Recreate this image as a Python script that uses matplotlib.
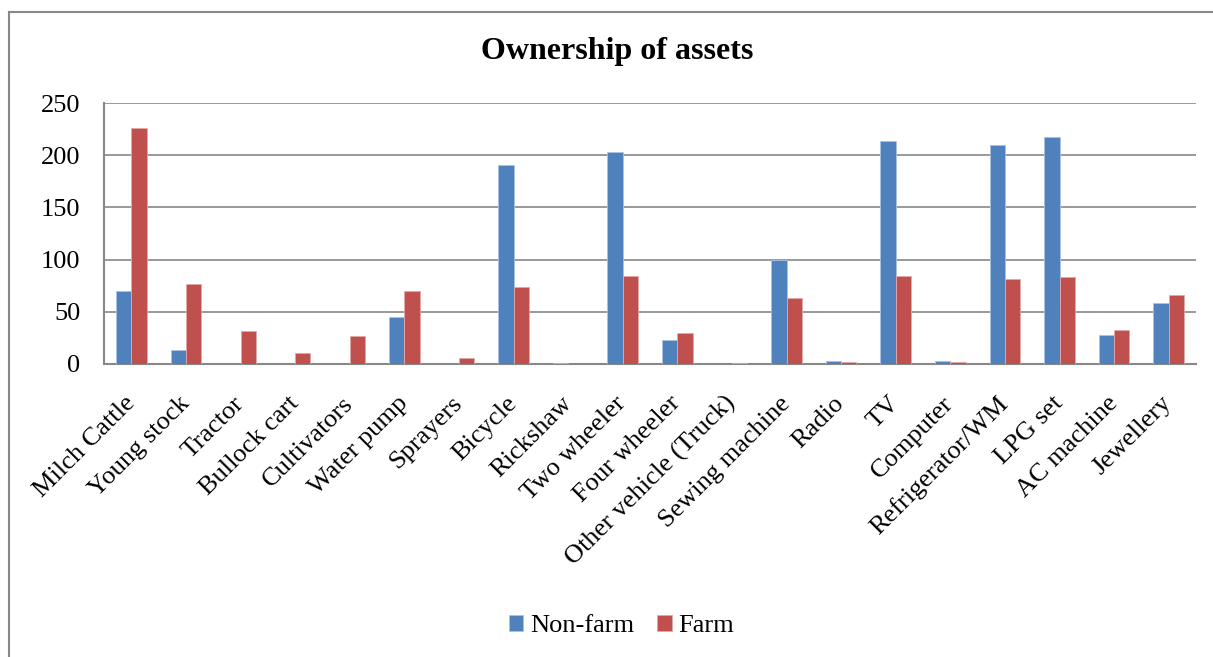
import numpy as np
import matplotlib
matplotlib.use('Agg')
import matplotlib.pyplot as plt
from matplotlib.lines import Line2D

plt.rcParams['font.family'] = ['Liberation Serif', 'DejaVu Serif']

# Assets owned by household type
categories = ['Milch Cattle', 'Young stock', 'Tractor', 'Bullock cart', 'Cultivators',
              'Water pump', 'Sprayers', 'Bicycle', 'Rickshaw', 'Two wheeler',
              'Four wheeler', 'Other vehicle (Truck)', 'Sewing machine', 'Radio', 'TV',
              'Computer', 'Refrigerator/WM', 'LPG set', 'AC machine', 'Jewellery']
nonFarm = [70, 13, 0, 0, 0, 45, 0, 191, 1, 203, 23, 0, 100, 3, 214, 3, 210, 217, 28, 58]
farm = [226, 77, 32, 11, 27, 70, 6, 74, 0, 84, 30, 1, 63, 2, 84, 2, 81, 83, 33, 66]

blue = '#4F81BD'
red = '#C0504D'
gridColor = '#888888'

fig = plt.figure(figsize=(12.13, 6.57), dpi=100)
ax = fig.add_axes([104/1213, 1 - 364/657, (1196 - 104)/1213, (364 - 103)/657])

x = np.arange(len(categories))
w = 0.281
# no outline on empty bars so they stay invisible
ax.bar(x - w/2, nonFarm, w, color=blue, edgecolor='#A9C2E2',
       linewidth=[0.6 if v > 0 else 0 for v in nonFarm], label='Non-farm', zorder=3)
ax.bar(x + w/2, farm, w, color=red, edgecolor='#E3A9A8',
       linewidth=[0.6 if v > 0 else 0 for v in farm], label='Farm', zorder=3)

ax.set_xlim(-0.5, len(categories) - 0.5)
ax.set_ylim(0, 250)
ax.set_yticks(np.arange(0, 251, 50))
ax.yaxis.grid(True, color=gridColor, linewidth=1.2, zorder=0)
ax.set_axisbelow(True)

for side in ['top', 'right']:
    ax.spines[side].set_visible(False)
for side in ['left', 'bottom']:
    ax.spines[side].set_color(gridColor)
    ax.spines[side].set_linewidth(1.5)

ax.tick_params(axis='both', length=0, labelsize=19)
ax.tick_params(axis='y', pad=17)
ax.tick_params(axis='x', pad=26)
ax.set_xticks(x)
ax.set_xticklabels(categories, rotation=45, ha='right', va='center', rotation_mode='anchor')

fig.text(617/1213, 1 - 52/657, 'Ownership of assets', ha='center', va='center',
         fontsize=23, fontweight='bold')

fig.legend(loc='center', bbox_to_anchor=(621.5/1213, 1 - 626/657), ncol=2, frameon=False,
           fontsize=19, handlelength=0.55, handleheight=0.55, handletextpad=0.25,
           columnspacing=0.87)

# chart frame (left and top edges)
fig.add_artist(Line2D([9/1213, 9/1213], [0, 1 - 12/657], color=gridColor, linewidth=1.5))
fig.add_artist(Line2D([9/1213, 1], [1 - 12/657, 1 - 12/657], color=gridColor, linewidth=1.5))

fig.savefig('out.png', dpi=100)
